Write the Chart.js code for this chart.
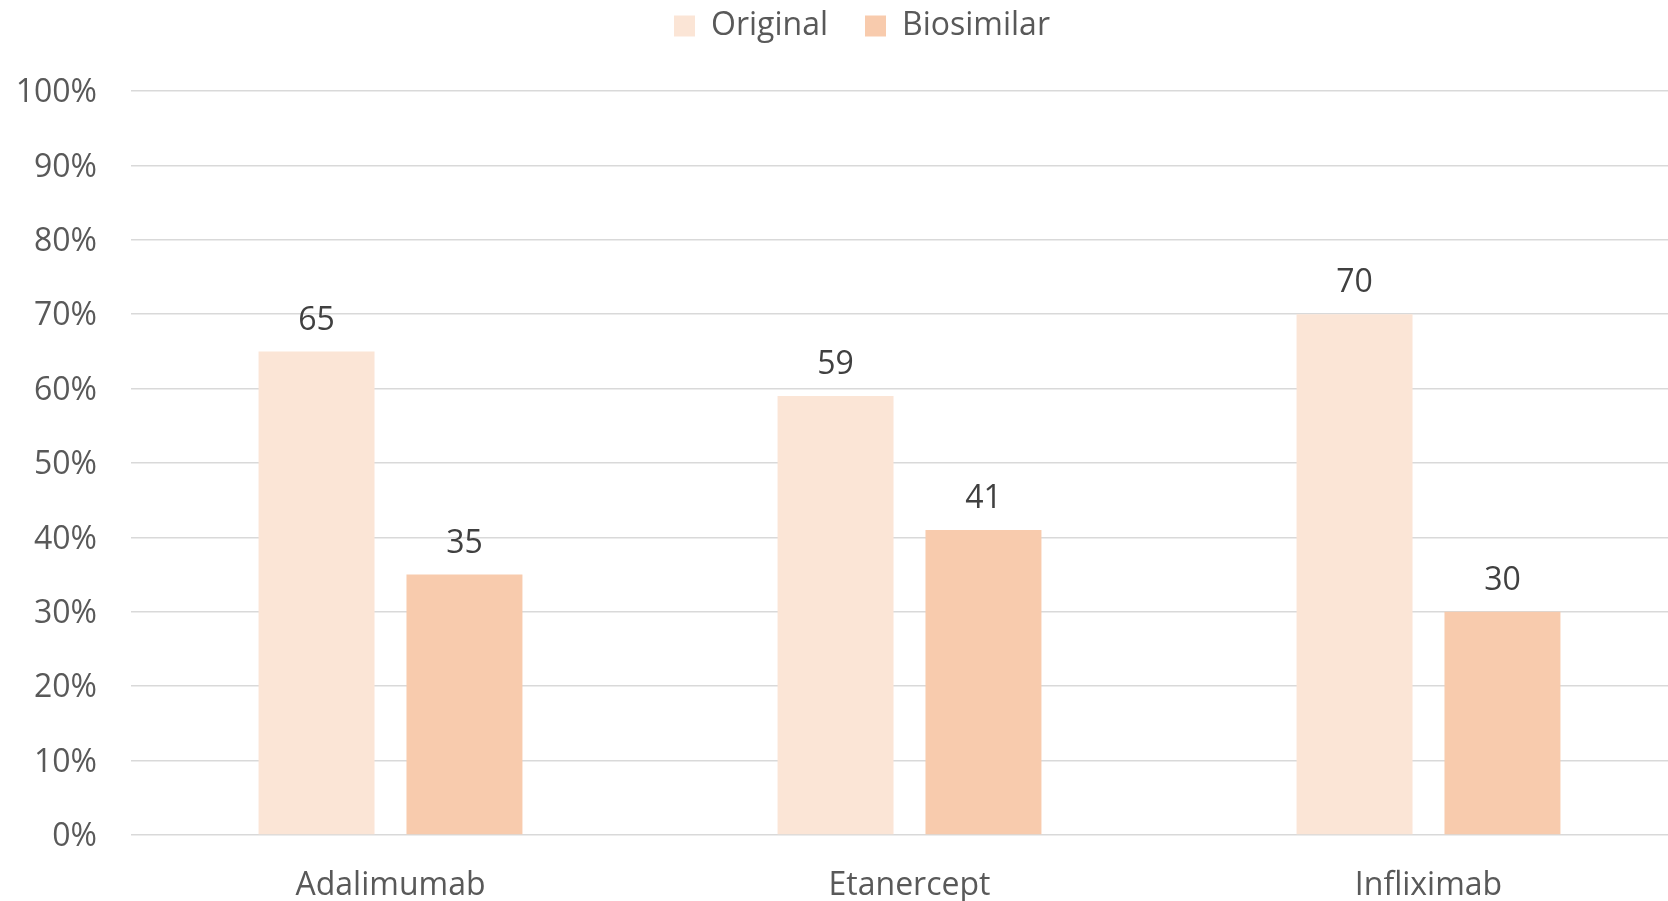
<!DOCTYPE html>
<html>
<head>
<meta charset="utf-8">
<script src="https://cdn.jsdelivr.net/npm/chart.js@4"></script>
<style>
  html, body { margin: 0; padding: 0; background: #fff; overflow: hidden; }
  #wrap { width: 1668px; height: 901px; overflow: hidden; }
</style>
</head>
<body>
<div id="wrap"><canvas id="chart" width="1688" height="901"></canvas></div>
<script>
const categories = ['Adalimumab', 'Etanercept', 'Infliximab'];
const original   = [65, 59, 70];
const biosimilar = [35, 41, 30];
const yMin = 0, yMax = 100, yStep = 10;

const FONT = '"Open Sans", "DejaVu Sans", sans-serif';
const GREY = '#595959';

// value labels above each bar
const barLabels = {
  id: 'barLabels',
  afterDatasetsDraw(chart) {
    const ctx = chart.ctx;
    ctx.save();
    ctx.font = `32px ${FONT}`;
    ctx.fillStyle = '#404040';
    ctx.textAlign = 'center';
    ctx.textBaseline = 'bottom';
    chart.data.datasets.forEach((ds, i) => {
      chart.getDatasetMeta(i).data.forEach((bar, j) => {
        ctx.fillText(ds.data[j], bar.x, bar.y - 15);
      });
    });
    ctx.restore();
  }
};

// fix the legend block height so the plot starts where the original does
const legendBox = {
  id: 'legendBox',
  beforeInit(chart) {
    const lg = chart.legend;
    const fit = lg.fit;
    lg.fit = function () { fit.call(this); this.height = 118; };
  },
  beforeDraw(chart) {
    chart.legend.left += 18;
    chart.legend.right += 18;
  }
};

new Chart(document.getElementById('chart'), {
  type: 'bar',
  data: {
    labels: categories,
    datasets: [
      { label: 'Original',   data: original,   backgroundColor: '#FBE5D6' },
      { label: 'Biosimilar', data: biosimilar, backgroundColor: '#F8CBAD' },
    ]
  },
  options: {
    responsive: false,
    animation: false,
    layout: { padding: { top: -27, right: 0, bottom: 0, left: 0 } },
    datasets: { bar: { categoryPercentage: 0.570, barPercentage: 0.784 } },
    plugins: {
      tooltip: { enabled: false },
      legend: {
        position: 'top',
        labels: {
          boxWidth: 21, boxHeight: 21, padding: 37,
          color: GREY,
          font: { family: FONT, size: 32 }
        }
      }
    },
    scales: {
      x: {
        grid: { display: false },
        border: { display: false },
        ticks: { color: GREY, font: { family: FONT, size: 32 }, padding: 24 },
        afterFit(s) { s.height = 66; }
      },
      y: {
        min: yMin, max: yMax,
        border: { display: false },
        grid: { color: '#d9d9d9', lineWidth: 1.5, drawTicks: false },
        ticks: {
          stepSize: yStep,
          color: GREY,
          padding: 34,
          labelOffset: 2,
          font: { family: FONT, size: 32 },
          callback: v => v + '%'
        },
        afterFit(s) { s.width = 131; }
      }
    }
  },
  plugins: [barLabels, legendBox]
});
</script>
</body>
</html>
